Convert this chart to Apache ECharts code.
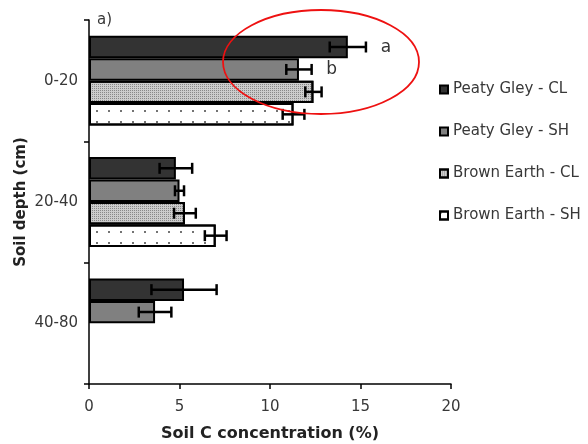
<!DOCTYPE html>
<html><head><meta charset="utf-8">
<script src="https://cdn.jsdelivr.net/npm/echarts@6/dist/echarts.min.js"></script>
<style>html,body{margin:0;padding:0;background:#fff}#c{width:588px;height:444px}</style>
</head><body><div id="c"></div>
<script>
// ---- data ----
const categories = ['0-20', '20-40', '40-80'];
const seriesNames = ['Peaty Gley - CL', 'Peaty Gley - SH', 'Brown Earth - CL', 'Brown Earth - SH'];
const pgCL = [14.3, 4.8, 5.25];
const pgCLErr = [1.0, 0.9, 1.8];
const pgSH = [11.6, 5.0, 3.65];
const pgSHErr = [0.7, 0.25, 0.9];
const beCL = [12.4, 5.3, null];
const beCLErr = [0.45, 0.6, null];
const beSH = [11.3, 7.0, null];
const beSHErr = [0.6, 0.6, null];
const pgCLLetters = ['a', '', ''];
const pgSHLetters = ['b', '', ''];
const beCLLetters = ['', '', ''];
const beSHLetters = ['', '', ''];
const xMin = 0, xMax = 20, xInterval = 5;

const means = [pgCL, pgSH, beCL, beSH];
const errs = [pgCLErr, pgSHErr, beCLErr, beSHErr];
const letters = [pgCLLetters, pgSHLetters, beCLLetters, beSHLetters];

const FONT = 'DejaVu Sans';
const CAT_GAP = 0.26;
const N = 4;

const styles = [
  { color: '#333333', borderColor: '#000', borderWidth: 2 },
  { color: '#808080', borderColor: '#000', borderWidth: 2 },
  { color: '#cccccc', borderColor: '#000', borderWidth: 2,
    decal: { symbol: 'rect', symbolSize: 1, dashArrayX: [1, 1], dashArrayY: [1, 1], color: 'rgba(80,80,80,0.55)', rotation: 0 } },
  { color: '#ffffff', borderColor: '#000', borderWidth: 2,
    decal: { symbol: 'circle', symbolSize: 1, dashArrayX: [[2, 10]], dashArrayY: [2, 9], color: '#444', rotation: 0 } }
];

const series = [];
means.forEach((m, i) => {
  series.push({
    name: seriesNames[i], type: 'bar', data: m,
    barGap: '0%', barCategoryGap: (CAT_GAP * 100) + '%',
    itemStyle: styles[i], emphasis: { disabled: true }, animation: false
  });
});
means.forEach((m, i) => {
  const data = [];
  m.forEach((v, ci) => { if (v != null) data.push([v, ci, errs[i][ci], i]); });
  series.push({
    type: 'custom', animation: false, silent: true, z: 5,
    encode: { x: 0, y: 1 },
    data: data,
    renderItem: function (params, api) {
      const mean = api.value(0), cat = api.value(1), err = api.value(2), si = api.value(3);
      const c = api.coord([mean, cat]);
      const band = Math.abs(api.size([0, 1])[1]);
      const groupW = band * (1 - CAT_GAP);
      const bw = groupW / N;
      const y = c[1] - groupW / 2 + (si + 0.5) * bw;
      const x1 = api.coord([mean - err, cat])[0];
      const x2 = api.coord([mean + err, cat])[0];
      const h = 5.5;
      const st = { stroke: '#000', lineWidth: 2.5 };
      const ch = [
        { type: 'line', shape: { x1: x1, y1: y, x2: x2, y2: y }, style: st },
        { type: 'line', shape: { x1: x1, y1: y - h, x2: x1, y2: y + h }, style: st },
        { type: 'line', shape: { x1: x2, y1: y - h, x2: x2, y2: y + h }, style: st }
      ];
      const lt = letters[si][cat];
      if (lt) ch.push({ type: 'text', x: x2 + 20, y: y + 0.5,
        style: { text: lt, fill: '#333', font: '17px "' + FONT + '"', align: 'center', verticalAlign: 'middle' } });
      return { type: 'group', children: ch };
    }
  });
});

const chart = echarts.init(document.getElementById('c'), null, { renderer: 'canvas' });
chart.setOption({
  animation: false,
  backgroundColor: '#fff',
  textStyle: { fontFamily: FONT },
  grid: { left: 89, right: 137, top: 20, bottom: 60, containLabel: false, outerBoundsMode: 'none' },
  legend: {
    orient: 'vertical', left: 434, top: 77, itemGap: 27,
    itemWidth: 8, itemHeight: 8, icon: 'rect',
    data: seriesNames,
    textStyle: { fontFamily: FONT, fontSize: 15, color: '#383838' }
  },
  xAxis: {
    type: 'value', min: xMin, max: xMax, interval: xInterval,
    name: 'Soil C concentration (%)', nameLocation: 'middle', nameGap: 42,
    nameTextStyle: { fontFamily: FONT, fontSize: 16, fontWeight: 'bold', color: '#222' },
    axisLine: { show: true, lineStyle: { color: '#000', width: 1.5 } },
    axisTick: { show: true, length: 5, lineStyle: { color: '#000', width: 1.5 } },
    axisLabel: { fontFamily: FONT, fontSize: 15, color: '#383838', margin: 16 },
    splitLine: { show: false }
  },
  yAxis: {
    type: 'category', data: categories, inverse: true,
    axisLine: { show: true, lineStyle: { color: '#000', width: 1.5 } },
    axisTick: { show: true, length: 5, lineStyle: { color: '#000', width: 1.5 } },
    axisLabel: { fontFamily: FONT, fontSize: 15, color: '#383838', margin: 11 },
    splitLine: { show: false }
  },
  graphic: [
    { type: 'text', left: 97, top: 13, style: { text: 'a)', font: '15px "' + FONT + '"', fill: '#383838' } },
    { type: 'text', x: 21, y: 202, rotation: Math.PI / 2,
      style: { text: 'Soil depth (cm)', font: 'bold 15px "' + FONT + '"', fill: '#222', align: 'center', verticalAlign: 'middle' } },
    { type: 'ellipse', shape: { cx: 321, cy: 62, rx: 98, ry: 52 }, style: { fill: 'none', stroke: '#ee1111', lineWidth: 1.8 }, z: 10 }
  ],
  series: series
});
</script></body></html>
